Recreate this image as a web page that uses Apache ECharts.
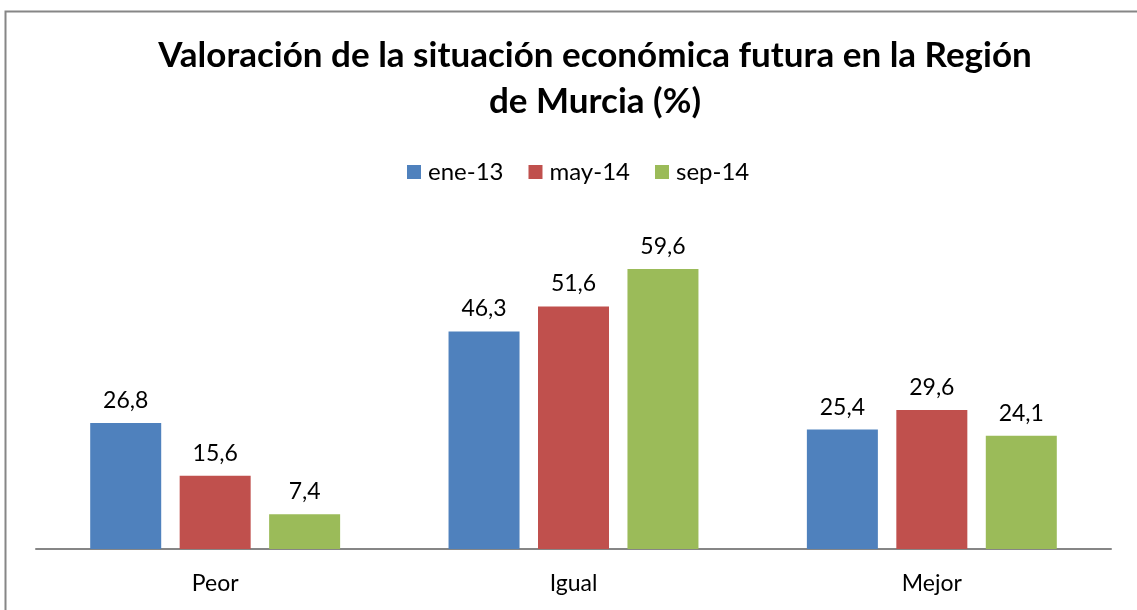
<!DOCTYPE html>
<html>
<head>
<meta charset="utf-8">
<script src="https://cdn.jsdelivr.net/npm/echarts@6/dist/echarts.min.js"></script>
<style>
	html, body { margin: 0; padding: 0; background: #fff; }
	#chart { width: 1137px; height: 610px; }
</style>
</head>
<body>
<div id="chart"></div>
<script>
// categorias y valores (%)
const categories = ['Peor', 'Igual', 'Mejor'];
const seriesNames = ['ene-13', 'may-14', 'sep-14'];
const ene13 = [26.8, 46.3, 25.4];
const may14 = [15.6, 51.6, 29.6];
const sep14 = [7.4, 59.6, 24.1];
const colors = ['#4f81bd', '#c0504d', '#9bbb59'];

const font = 'Lato, "Open Sans", sans-serif';

function fmt(p) {
	return String(p.value).replace('.', ',');
}

function makeSeries(name, data, color) {
	return {
		name: name,
		type: 'bar',
		data: data,
		barWidth: 71,
		barGap: '26%',
		itemStyle: { color: color },
		label: {
			show: true,
			position: 'top',
			distance: 11,
			formatter: fmt,
			fontFamily: font,
			fontSize: 23,
			color: '#000'
		}
	};
}

var myChart = echarts.init(document.getElementById('chart'));
myChart.setOption({
	animation: false,
	title: {
		text: 'Valoración de la situación económica futura en la Región\nde Murcia (%)',
		left: 590,
		textAlign: 'center',
		top: 28,
		textStyle: {
			fontFamily: font,
			fontSize: 35,
			fontWeight: 'bold',
			color: '#000',
			lineHeight: 46
		}
	},
	legend: {
		top: 155,
		left: 402,
		itemWidth: 14,
		itemHeight: 14,
		itemGap: 25,
		icon: 'rect',
		textStyle: { fontFamily: font, fontSize: 24, color: '#000', padding: [0, 0, 0, 2] }
	},
	grid: {
		left: 36,
		right: 26,
		top: 220,
		bottom: 61,
		containLabel: false
	},
	xAxis: {
		type: 'category',
		data: categories,
		axisLine: { lineStyle: { color: '#868686', width: 2 } },
		axisTick: { show: false },
		axisLabel: { fontFamily: font, fontSize: 23, color: '#000', margin: 23 }
	},
	yAxis: {
		type: 'value',
		min: 0,
		max: 70,
		show: false,
		splitLine: { show: false }
	},
	graphic: [{
		type: 'rect',
		shape: { x: 5.5, y: 11.5, width: 1140, height: 610 },
		style: { fill: 'none', stroke: '#868686', lineWidth: 2 },
		silent: true
	}],
	series: [
		makeSeries(seriesNames[0], ene13, colors[0]),
		makeSeries(seriesNames[1], may14, colors[1]),
		makeSeries(seriesNames[2], sep14, colors[2])
	]
});
</script>
</body>
</html>
